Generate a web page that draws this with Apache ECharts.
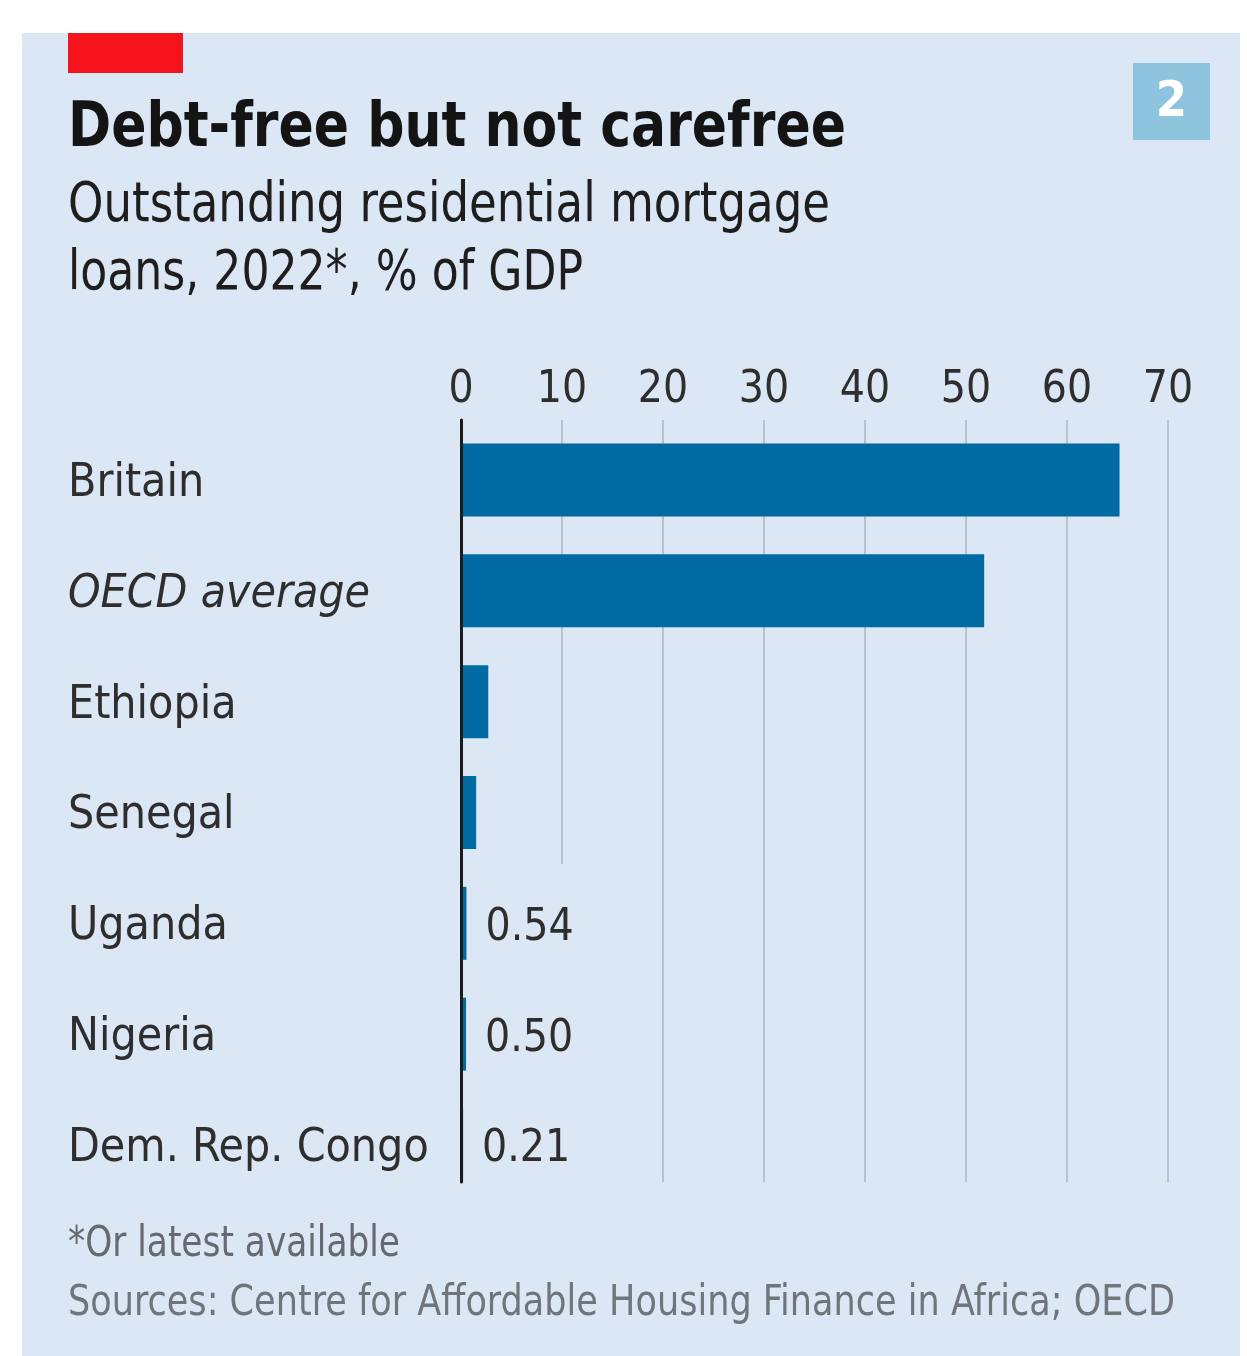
<!DOCTYPE html>
<html>
<head>
<meta charset="utf-8">
<script src="https://cdn.jsdelivr.net/npm/echarts@6/dist/echarts.min.js"></script>
<style>
html,body{margin:0;padding:0;background:#ffffff;}
#chart{width:1247px;height:1356px;}
</style>
</head>
<body>
<div id="chart"></div>
<script>
// ---- data ----
const categories = ['Britain', 'OECD average', 'Ethiopia', 'Senegal', 'Uganda', 'Nigeria', 'Dem. Rep. Congo'];
const values = [65.2, 51.8, 2.7, 1.5, 0.54, 0.50, 0.21];
const valueLabels = ['', '', '', '', '0.54', '0.50', '0.21'];
const italicCategories = ['OECD average'];
const xMin = 0, xMax = 70, xStep = 10;

const titleText = 'Debt-free but not carefree';
const subtitleLines = ['Outstanding residential mortgage', 'loans, 2022*, % of GDP'];
const footnote = '*Or latest available';
const sources = 'Sources: Centre for Affordable Housing Finance in Africa; OECD';
const chartNumber = '2';

// ---- styles ----
const FONT = "'Liberation Sans Narrow', 'DejaVu Sans Condensed', 'Open Sans', sans-serif";
const PANEL = '#dbe7f4';
const BAR = '#006ba2';
const GRIDC = '#b7c2cf';
const TEXT = '#2e2e2e';

// horizontal squeeze of header/footer texts so they occupy the reference's width
const measureCtx = document.createElement('canvas').getContext('2d');
function fitScale(text, size, weight, targetWidth) {
  measureCtx.font = (weight || 'normal') + ' ' + size + 'px ' + FONT;
  const w = measureCtx.measureText(text).width;
  return Math.min(1, targetWidth / w);
}
function headerText(text, x, y, size, weight, color, targetWidth) {
  return {
    type: 'text', x: x, y: y, scaleX: fitScale(text, size, weight, targetWidth),
    style: {text: text, fontFamily: FONT, fontWeight: weight || 'normal', fontSize: size, fill: color, align: 'left', verticalAlign: 'middle'}
  };
}

const chart = echarts.init(document.getElementById('chart'), null, {renderer: 'canvas'});

const barData = values.map((v, i) => ({
  value: v,
  label: valueLabels[i] ? {
    show: true, position: 'right', distance: 14, offset: [0, 5],
    formatter: valueLabels[i],
    fontFamily: FONT, fontSize: 44, color: TEXT,
    backgroundColor: PANEL, padding: [40, 10, 40, 5], lineHeight: 48
  } : {show: false}
}));

const option = {
  backgroundColor: '#ffffff',
  animation: false,
  graphic: [
    {type: 'rect', shape: {x: 22, y: 33, width: 1218, height: 1330}, style: {fill: PANEL}, z: -10, silent: true},
    {type: 'rect', shape: {x: 68, y: 33, width: 115, height: 40}, style: {fill: '#f5141b'}, z: -5},
    {type: 'rect', shape: {x: 1133, y: 63, width: 77, height: 77}, style: {fill: '#8ec4dd'}, z: -5},
    {type: 'text', x: 1171.5, y: 103, style: {text: chartNumber, fontFamily: FONT, fontWeight: 'bold', fontSize: 50, fill: '#ffffff', align: 'center', verticalAlign: 'middle'}},
    headerText(titleText, 68, 130, 62, 'bold', '#141414', 778),
    headerText(subtitleLines[0], 68, 207, 55, 'normal', '#1e1e1e', 762),
    headerText(subtitleLines[1], 68, 275, 55, 'normal', '#1e1e1e', 515),
    headerText(footnote, 68, 1245, 42, 'normal', '#666a70', 332),
    headerText(sources, 68, 1304, 42, 'normal', '#70757b', 1107)
  ],
  grid: [
    {left: 461, right: 79, top: 424.6, bottom: 155.6},
    {left: 461, right: 79, top: 420, bottom: 174}
  ],
  xAxis: [
    {type: 'value', gridIndex: 0, min: xMin, max: xMax, interval: xStep,
     axisLabel: {show: false}, axisLine: {show: false}, axisTick: {show: false}, splitLine: {show: false}},
    {type: 'value', gridIndex: 1, min: xMin, max: xMax, interval: xStep, position: 'top',
     axisLabel: {show: true, fontFamily: FONT, fontSize: 44, color: TEXT, margin: 7},
     axisLine: {show: false}, axisTick: {show: false},
     splitLine: {show: true, lineStyle: {color: GRIDC, width: 2}}}
  ],
  yAxis: [
    {type: 'category', gridIndex: 0, data: categories, inverse: true,
     axisLine: {show: false}, axisTick: {show: false}, splitLine: {show: false},
     axisLabel: {
       show: true, margin: 393, align: 'left', fontFamily: FONT, fontSize: 46, color: TEXT,
       padding: [8, 0, 0, 0],
       formatter: (v) => italicCategories.includes(v) ? '{i|' + v + '}' : v,
       rich: {i: {fontFamily: FONT, fontSize: 46, fontStyle: 'italic', color: TEXT}}
     }},
    {type: 'value', gridIndex: 1, min: 0, max: 1, z: 10,
     axisLine: {show: true, onZero: false, lineStyle: {color: '#1b1b1b', width: 3}},
     axisLabel: {show: false}, axisTick: {show: false}, splitLine: {show: false}}
  ],
  series: [
    {type: 'bar', xAxisIndex: 0, yAxisIndex: 0, data: barData, barWidth: 73,
     itemStyle: {color: BAR}, z: 3}
  ]
};
chart.setOption(option);
</script>
</body>
</html>
